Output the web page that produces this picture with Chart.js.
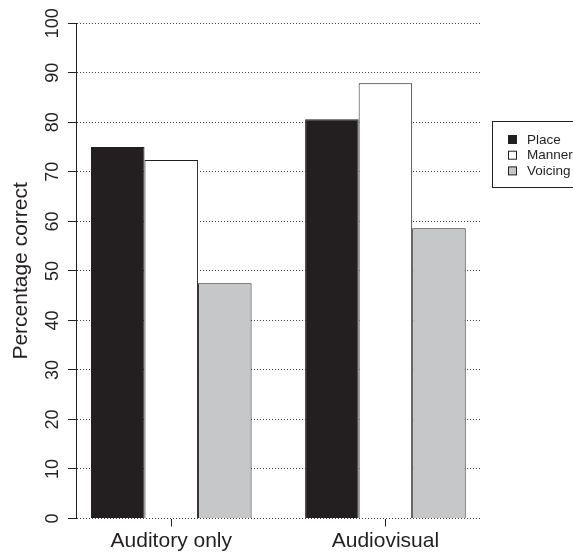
<!DOCTYPE html>
<html>
<head>
<meta charset="utf-8">
<script src="https://cdn.jsdelivr.net/npm/chart.js@4"></script>
<style>
  body { margin: 0; background: #fff; }
  #wrap { width: 573px; height: 556px; }
</style>
</head>
<body>
<div id="wrap"><canvas id="chart" width="573" height="556"></canvas></div>
<script>
// data
const conditions = ["Auditory only", "Audiovisual"];
const seriesNames = ["Place", "Manner", "Voicing"];
const placeVals = [75, 80.6];
const mannerVals = [72.4, 87.9];
const voicingVals = [47.5, 58.6];
const yTicks = [0, 10, 20, 30, 40, 50, 60, 70, 80, 90, 100];

const ink = "#231f20";

// R style: one bar of space before/between groups, plot range padded 4%
function rStyleRange(scale) {
    const lo = (0.72 - 2.5) / 4;
    const hi = (8.28 - 2.5) / 4;
    scale._startValue = lo;
    scale._valueRange = hi - lo;
}

// boxed legend at the right, like legend() in R
const boxLegend = {
    id: "boxLegend",
    afterDraw(chart) {
        const ctx = chart.ctx;
        ctx.save();
        ctx.strokeStyle = ink;
        ctx.lineWidth = 1;
        ctx.strokeRect(492.5, 121.5, 110, 66);
        ctx.font = "13.5px 'Liberation Sans', Arial, sans-serif";
        ctx.textBaseline = "middle";
        chart.data.datasets.forEach((ds, i) => {
            const y = 140 + i * 15.7;
            ctx.fillStyle = ds.backgroundColor;
            ctx.fillRect(508.5, y - 4.5, 8, 8);
            ctx.strokeRect(508.5, y - 4.5, 8, 8);
            ctx.fillStyle = ink;
            ctx.fillText(ds.label, 527, y);
        });
        ctx.restore();
    }
};

new Chart(document.getElementById("chart"), {
    type: "bar",
    data: {
        labels: conditions,
        datasets: [
            { label: seriesNames[0], data: placeVals, backgroundColor: ink },
            { label: seriesNames[1], data: mannerVals, backgroundColor: "#ffffff" },
            { label: seriesNames[2], data: voicingVals, backgroundColor: "#c6c7c9" }
        ].map(d => Object.assign(d, {
            borderColor: ink,
            borderWidth: 1,
            categoryPercentage: 0.75,
            barPercentage: 1
        }))
    },
    options: {
        responsive: false,
        devicePixelRatio: 1,
        animation: false,
        layout: { padding: { left: 0, right: 92.3, top: 23.3, bottom: 0 } },
        plugins: {
            legend: { display: false },
            tooltip: { enabled: false }
        },
        scales: {
            x: {
                afterBuildTicks: rStyleRange,
                afterFit: s => { s.height = 37.5; },
                border: { display: false },
                grid: {
                    display: true,
                    offset: false,
                    drawOnChartArea: false,
                    drawTicks: true,
                    tickLength: 8,
                    tickColor: ink,
                    tickWidth: 1
                },
                ticks: {
                    color: ink,
                    padding: 2,
                    maxRotation: 0,
                    font: { family: "'Liberation Sans', Arial, sans-serif", size: 21 }
                }
            },
            y: {
                min: 0,
                max: 100,
                afterFit: s => { s.width = 76; },
                afterBuildTicks: s => { s.ticks = yTicks.map(v => ({ value: v })); },
                border: { display: true, color: ink, width: 1, dash: [1, 2] },
                grid: {
                    color: "#444",
                    lineWidth: 1,
                    drawTicks: true,
                    tickLength: 8,
                    tickColor: ink,
                    tickBorderDash: []
                },
                ticks: {
                    color: ink,
                    minRotation: 90,
                    maxRotation: 90,
                    crossAlign: "center",
                    padding: 0,
                    autoSkip: false,
                    font: { family: "'Liberation Sans', Arial, sans-serif", size: 18 }
                },
                title: {
                    display: true,
                    text: "Percentage correct",
                    color: ink,
                    padding: { top: 9, bottom: 0 },
                    font: { family: "'Liberation Sans', Arial, sans-serif", size: 21 }
                }
            }
        }
    },
    plugins: [boxLegend]
});
</script>
</body>
</html>
